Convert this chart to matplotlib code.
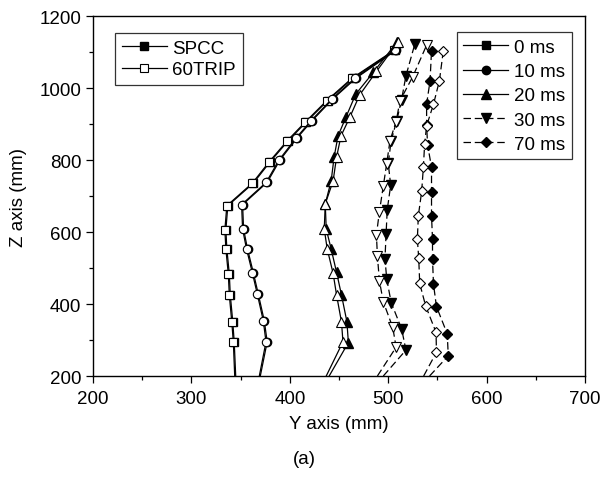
import matplotlib.pyplot as plt
from matplotlib.lines import Line2D

plt.rcParams['font.family'] = ['Liberation Sans', 'DejaVu Sans']

# 每条曲线第一个点是底边 (z=200) 处的线端，不画标记
# 0 ms
z_0_trip = [200, 294, 351, 425, 483, 553, 606, 673, 736, 795, 854, 905, 965, 1027, 1105]
y_0_trip = [344, 342.6, 341, 338.5, 337.5, 335, 334, 336, 362, 379, 397.5, 415.5, 437.5, 463, 506]
z_0_spcc = [200, 294, 351, 425, 483, 553, 606, 673, 736, 795, 854, 905, 965, 1027, 1105]
y_0_spcc = [345, 343.5, 342, 339.5, 338.5, 336, 335, 337, 363, 380, 398.5, 416.5, 438.5, 464, 507]
# 10 ms
z_10_trip = [200, 295, 354, 427, 486, 553, 608, 676, 738, 800, 860, 909, 969, 1027, 1105]
y_10_trip = [369, 375.8, 373, 367, 362, 356, 352, 351, 376, 389, 406, 421.5, 442.5, 466, 507]
z_10_spcc = [200, 295, 354, 427, 486, 553, 608, 676, 738, 800, 860, 909, 969, 1027, 1105]
y_10_spcc = [370, 377, 374, 368, 363, 357, 353, 352, 377, 390, 407, 422.5, 443.5, 467, 508]
# 20 ms
z_20_trip = [200, 295, 350, 425, 485, 553, 608, 678, 742, 808, 867, 919, 981, 1046, 1128]
y_20_trip = [437, 454, 452.5, 447.5, 444, 438, 435, 436, 444, 447.5, 452, 461, 471, 488, 510]
z_20_spcc = [200, 293, 351, 425, 488, 553, 608, 678, 742, 808, 867, 919, 983, 1044, 1128]
y_20_spcc = [440, 459.5, 458, 452.5, 447.5, 442, 437, 436, 442, 445, 449, 457, 467, 485, 509]
# 30 ms
z_30_trip = [200, 280, 335, 406, 465, 534, 592, 656, 728, 789, 854, 907, 965, 1032, 1119]
y_30_trip = [489, 508, 504.6, 495, 491, 489, 488, 491, 495, 498.4, 501.8, 508, 512, 525, 539]
z_30_spcc = [200, 272, 331, 404, 469, 525, 594, 662, 730, 791, 854, 909, 968, 1034, 1122]
y_30_spcc = [495, 518, 513.6, 503, 498.5, 496.7, 497.8, 499, 502.5, 500, 503, 508.6, 513.6, 518, 527]
# 70 ms
z_70_trip = [200, 266, 321, 395, 457, 527, 580, 645, 713, 780, 844, 895, 955, 1020, 1104]
y_70_trip = [536, 549, 548.6, 538, 532, 531, 529.6, 530.6, 534, 535.7, 537, 539, 546, 552, 556]
z_70_spcc = [200, 256, 317, 393, 455, 525, 580, 645, 712, 780, 842, 897, 955, 1020, 1104]
y_70_spcc = [542, 561, 560, 549, 546, 545, 545, 544, 544, 544, 540, 539, 539, 542.5, 544]

labels = ['0 ms', '10 ms', '20 ms', '30 ms', '70 ms']
markers = ['s', 'o', '^', 'v', 'D']
msizes = [5.5, 6, 6.5, 6.5, 5.2]
styles = ['-', '-', '-', (0, (6, 3)), (0, (6, 3))]
spcc = [(y_0_spcc, z_0_spcc), (y_10_spcc, z_10_spcc), (y_20_spcc, z_20_spcc),
        (y_30_spcc, z_30_spcc), (y_70_spcc, z_70_spcc)]
trip = [(y_0_trip, z_0_trip), (y_10_trip, z_10_trip), (y_20_trip, z_20_trip),
        (y_30_trip, z_30_trip), (y_70_trip, z_70_trip)]

fig = plt.figure(figsize=(6.04, 4.81), dpi=100)
ax = fig.add_axes([0.154, 0.2162, 0.8146, 0.7484])

for i in range(5):
    y, z = spcc[i]
    ax.plot(y, z, color='black', linestyle=styles[i], linewidth=0.9, marker=markers[i],
            markersize=msizes[i], markerfacecolor='black', markeredgecolor='black',
            markevery=slice(1, None))
    y, z = trip[i]
    ax.plot(y, z, color='black', linestyle=styles[i], linewidth=0.9, marker=markers[i],
            markersize=msizes[i], markerfacecolor='white', markeredgecolor='black',
            markeredgewidth=0.8, markevery=slice(1, None))

ax.set_xlim(200, 700)
ax.set_ylim(200, 1200)
ax.set_xticks([200, 300, 400, 500, 600, 700])
ax.set_xticks(range(250, 700, 100), minor=True)
ax.set_yticks([200, 400, 600, 800, 1000, 1200])
ax.set_yticks(range(300, 1200, 200), minor=True)
ax.tick_params(which='major', direction='out', length=5, width=0.9, labelsize=13.5)
ax.tick_params(axis='x', which='major', pad=5)
ax.tick_params(which='minor', direction='out', length=3, width=0.9)
for s in ax.spines.values():
    s.set_linewidth(1.0)

ax.set_xlabel('Y axis (mm)', fontsize=13.5, labelpad=6)
ax.set_ylabel('Z axis (mm)', fontsize=13.5, labelpad=9)
fig.text(0.504, 0.045, '(a)', fontsize=13.5, ha='center', va='center')

h_mat = [Line2D([], [], color='black', linewidth=0.9, marker='s', markersize=5.5,
                markerfacecolor='black'),
         Line2D([], [], color='black', linewidth=0.9, marker='s', markersize=5.5,
                markerfacecolor='white', markeredgewidth=0.8)]
leg1 = ax.legend(h_mat, ['SPCC', '60TRIP'], loc='upper left', bbox_to_anchor=(0.045, 0.953),
                 fontsize=13.5, frameon=True, fancybox=False, edgecolor='black',
                 handlelength=2.4, handletextpad=0.3, labelspacing=0.25,
                 borderpad=0.35, borderaxespad=0)
leg1.get_frame().set_linewidth(0.9)
ax.add_artist(leg1)

h_t = [Line2D([], [], color='black', linewidth=0.9, linestyle=styles[i], marker=markers[i],
              markersize=msizes[i], markerfacecolor='black')
       for i in range(5)]
leg2 = ax.legend(h_t, labels, loc='upper right', bbox_to_anchor=(0.973, 0.955),
                 fontsize=13.5, frameon=True, fancybox=False, edgecolor='black',
                 handlelength=2.4, handletextpad=0.3, labelspacing=0.38,
                 borderpad=0.35, borderaxespad=0)
leg2.get_frame().set_linewidth(0.9)

fig.savefig('out.png', dpi=100)
